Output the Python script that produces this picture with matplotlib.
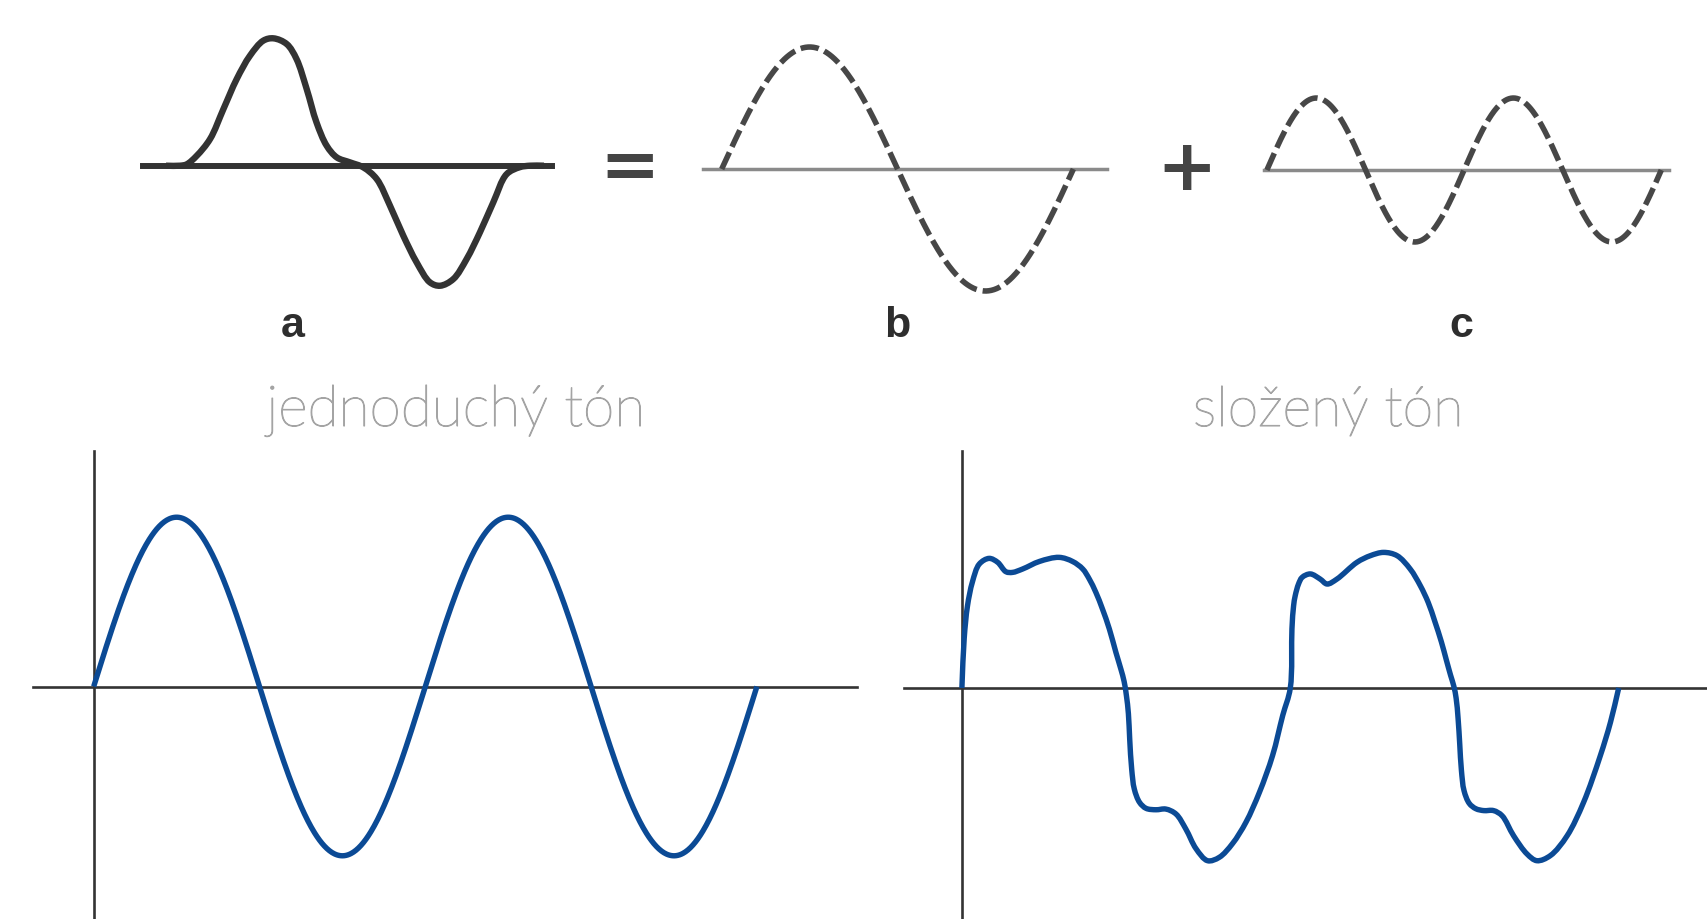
import numpy as np
import matplotlib
matplotlib.use("Agg")
import matplotlib.pyplot as plt
import matplotlib.patheffects as pe
from matplotlib.path import Path
from matplotlib.patches import PathPatch

# --- data ------------------------------------------------------------------
# a: the combined pulse (t = fraction of its period, y = units of b's amplitude)
a_t = [-0.040, 0.000, 0.019, 0.048, 0.086, 0.124, 0.162, 0.200, 0.238, 0.267,
       0.305, 0.333, 0.362, 0.390, 0.419, 0.448, 0.486, 0.524, 0.562, 0.600,
       0.638, 0.676, 0.714, 0.743, 0.781, 0.819, 0.857, 0.895, 0.933, 0.971,
       1.000, 1.040]
a_y = [0.000, 0.000, 0.011, 0.082, 0.219, 0.464, 0.710, 0.902, 1.025, 1.044,
       0.997, 0.874, 0.628, 0.355, 0.164, 0.068, 0.027, -0.014, -0.109, -0.328,
       -0.574, -0.792, -0.956, -0.984, -0.929, -0.765, -0.546, -0.301, -0.070, -0.012,
       0.000, 0.000]

# b: fundamental, c: second harmonic (amplitude, number of periods drawn)
b_amp, b_cycles = 1.0, 1
c_amp, c_cycles = 0.59, 2

# jednoduchý tón: pure sine
simple_amp, simple_cycles = 0.99, 2

# složený tón: traced curve (t in periods, y in units of the pure tone)
comp_t = [0.000, 0.007, 0.017, 0.032, 0.053, 0.083, 0.109, 0.134, 0.154, 0.185,
          0.236, 0.296, 0.337, 0.368, 0.388, 0.408, 0.428, 0.449, 0.469, 0.484,
          0.494, 0.501, 0.507, 0.511, 0.517, 0.525, 0.541, 0.561, 0.591, 0.621,
          0.652, 0.682, 0.713, 0.748, 0.784, 0.824, 0.865, 0.906, 0.946, 0.977,
          1.000, 1.005, 1.010, 1.015, 1.025, 1.036, 1.061, 1.091, 1.112, 1.142,
          1.203, 1.244, 1.284, 1.325, 1.365, 1.396, 1.420, 1.440, 1.460, 1.475,
          1.488, 1.498, 1.505, 1.511, 1.516, 1.521, 1.529, 1.545, 1.565, 1.589,
          1.619, 1.645, 1.680, 1.721, 1.751, 1.792, 1.843, 1.893, 1.944, 1.975,
          2.000]
comp_y = [0.000, 0.290, 0.480, 0.620, 0.725, 0.758, 0.735, 0.680, 0.676, 0.696,
          0.740, 0.764, 0.740, 0.696, 0.637, 0.559, 0.462, 0.345, 0.208, 0.111,
          0.038, -0.045, -0.150, -0.300, -0.474, -0.591, -0.669, -0.704, -0.712, -0.708,
          -0.737, -0.825, -0.940, -1.010, -0.990, -0.910, -0.785, -0.610, -0.395, -0.160,
          0.000, 0.345, 0.480, 0.540, 0.608, 0.647, 0.667, 0.637, 0.608, 0.637,
          0.735, 0.774, 0.793, 0.774, 0.696, 0.598, 0.500, 0.390, 0.270, 0.165,
          0.075, 0.010, -0.060, -0.180, -0.330, -0.480, -0.600, -0.675, -0.706, -0.717,
          -0.717, -0.747, -0.864, -0.971, -1.010, -0.980, -0.864, -0.669, -0.396, -0.200,
          0.000]

labels = ["a", "b", "c"]
titles = ["jednoduchý tón", "složený tón"]

# --- helpers ----------------------------------------------------------------
W, H = 1708, 920
fig = plt.figure(figsize=(W / 100, H / 100), dpi=100)


def panel(x0, x1, y0, y1, start, period, base, unit):
    # axes box in pixels, data: x in periods from start, y in amplitude units
    ax = fig.add_axes([x0 / W, 1 - y1 / H, (x1 - x0) / W, (y1 - y0) / H])
    ax.set_xlim((x0 - start) / period, (x1 - start) / period)
    ax.set_ylim(-(y1 - base) / unit, (base - y0) / unit)
    ax.set_xticks([])
    ax.set_yticks([])
    ax.patch.set_alpha(0)
    for s in ["top", "right", "left"]:
        ax.spines[s].set_visible(False)
    ax.spines["bottom"].set_position(("data", 0))
    return ax


def smooth(xs, ys, sx, sy):
    # centripetal catmull-rom through the traced points, as bezier segments
    # (sx, sy = pixels per data unit, so spacing is measured on screen)
    p = np.column_stack([np.asarray(xs) * sx, np.asarray(ys) * sy])
    p = np.vstack([2 * p[0] - p[1], p, 2 * p[-1] - p[-2]])
    verts = [p[1]]
    codes = [Path.MOVETO]
    for i in range(1, len(p) - 2):
        p0, p1, p2, p3 = p[i - 1], p[i], p[i + 1], p[i + 2]
        d1 = np.hypot(*(p1 - p0)) ** 0.5
        d2 = np.hypot(*(p2 - p1)) ** 0.5
        d3 = np.hypot(*(p3 - p2)) ** 0.5
        c1 = (d1**2 * p2 - d2**2 * p0 + (2 * d1**2 + 3 * d1 * d2 + d2**2) * p1) / (3 * d1 * (d1 + d2))
        c2 = (d3**2 * p1 - d2**2 * p3 + (2 * d3**2 + 3 * d3 * d2 + d2**2) * p2) / (3 * d3 * (d3 + d2))
        verts += [c1, c2, p2]
        codes += [Path.CURVE4] * 3
    verts = np.array(verts) / [sx, sy]
    return Path(verts, codes)


dark = "#333333"
dashcol = "#474747"
basecol = "#8a8a8a"
blue = "#0b4a95"
grey_title = "#a4a4a4"

# --- top row: a = b + c -----------------------------------------------------
ax_a = panel(143, 552, 20, 320, start=180, period=350, base=166.7, unit=122)
ax_a.spines["bottom"].set_color(dark)
ax_a.spines["bottom"].set_linewidth(4.3)
ax_a.add_patch(PathPatch(smooth(a_t, a_y, 350, 122), fc="none", ec=dark, lw=4.6,
                         capstyle="butt", joinstyle="round", zorder=3))

ax_b = panel(703, 1107, 20, 320, start=721.7, period=351.7, base=170, unit=122)
ax_b.spines["bottom"].set_color(basecol)
ax_b.spines["bottom"].set_linewidth(2.5)
tb = np.linspace(0, b_cycles, 400)
ax_b.plot(tb, b_amp * np.sin(2 * np.pi * tb), color=dashcol, lw=4.0,
          dashes=(3.3, 1.1), zorder=3)

ax_c = panel(1263.6, 1668.8, 20, 320, start=1266.9, period=197.2, base=171, unit=122)
ax_c.spines["bottom"].set_color(basecol)
ax_c.spines["bottom"].set_linewidth(2.5)
tc = np.linspace(0, c_cycles, 400)
ax_c.plot(tc, c_amp * np.sin(2 * np.pi * tc), color=dashcol, lw=4.0,
          dashes=(3.3, 1.1), zorder=3)

for lab, xp in zip(labels, [293, 897, 1461]):
    fig.text(xp / W, 1 - 337 / H, lab, ha="center", va="baseline",
             fontsize=31, fontweight="bold", color="#2e2e2e",
             family="Liberation Sans")

fig.text(630 / W, 1 - 168 / H, "=", ha="center", va="center", fontsize=52,
         fontweight="bold", color="#444444", family="DejaVu Sans")
fig.text(1187 / W, 1 - 171 / H, "+", ha="center", va="center", fontsize=52,
         fontweight="bold", color="#444444", family="DejaVu Sans")

# --- bottom row: pure and composite tone ------------------------------------
ax_l = panel(33, 857.4, 452, 920, start=93.7, period=331.6, base=687.5, unit=171)
ax_r = panel(903.8, 1708, 452, 920, start=961.9, period=328.4, base=689, unit=171)
for ax in [ax_l, ax_r]:
    ax.spines["left"].set_visible(True)
    ax.spines["left"].set_position(("data", 0))
    for s in ["left", "bottom"]:
        ax.spines[s].set_color("#333333")
        ax.spines[s].set_linewidth(1.9)

ts = np.linspace(0, simple_cycles, 800)
ax_l.plot(ts, simple_amp * np.sin(2 * np.pi * ts), color=blue, lw=3.9,
          solid_capstyle="butt", zorder=3)
ax_r.add_patch(PathPatch(smooth(comp_t, comp_y, 328.4, 171), fc="none", ec=blue,
                         lw=3.9, capstyle="butt", joinstyle="round", zorder=3))

for title, xp, size in zip(titles, [456, 1328], [41, 40]):
    fig.text(xp / W, 1 - 427 / H, title, ha="center", va="baseline",
             fontsize=size, color=grey_title, family="Lato", fontweight="light",
             path_effects=[pe.withStroke(linewidth=0.8, foreground=grey_title)])

fig.savefig("out.png", dpi=100, facecolor="white")
